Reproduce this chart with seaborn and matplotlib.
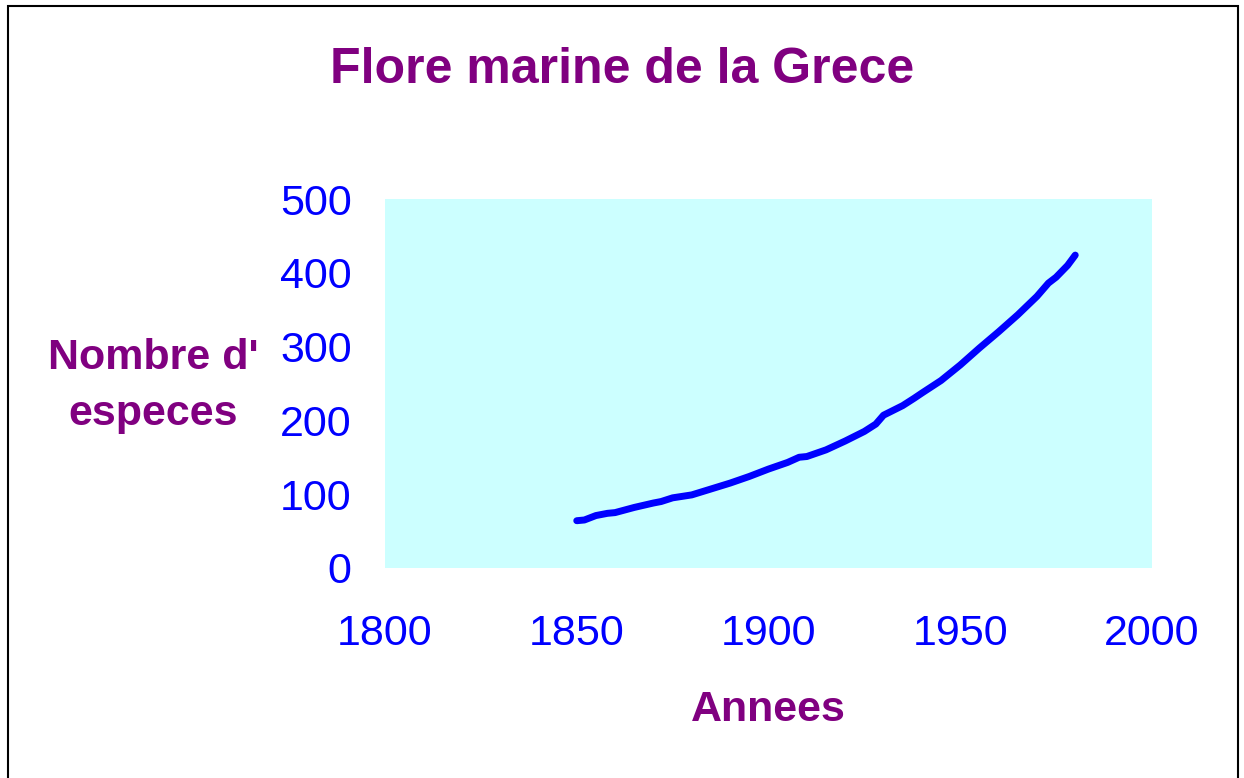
import pandas as pd
import seaborn as sns
import matplotlib.pyplot as plt
from matplotlib.patches import Rectangle

sns.set_style("white")
plt.rcParams['font.family'] = ['Liberation Sans', 'DejaVu Sans']

# data
years = [1850, 1852, 1855, 1858, 1860, 1865, 1870, 1872, 1875, 1880, 1885, 1890,
         1895, 1900, 1905, 1908, 1910, 1915, 1920, 1925, 1928, 1930, 1935, 1938,
         1940, 1945, 1950, 1955, 1960, 1965, 1970, 1973, 1975, 1978, 1980]
species = [64, 65, 71, 74, 75, 82, 88, 90, 95, 99, 107, 115,
           124, 134, 143, 150, 151, 160, 172, 185, 195, 207, 220, 230,
           237, 254, 275, 298, 320, 343, 368, 386, 394, 410, 424]
x_ticks = [1800, 1850, 1900, 1950, 2000]
y_ticks = [0, 100, 200, 300, 400, 500]

df = pd.DataFrame({"annee": years, "especes": species})

purple = "#800080"
blue = "#0000FF"

fig = plt.figure(figsize=(12.44, 7.78), dpi=100)
ax = fig.add_axes([0.3095, 0.27, 0.6165, 0.4742])
ax.set_facecolor("#CCFFFF")

sns.lineplot(x="annee", y="especes", data=df, color=blue, linewidth=5,
             solid_capstyle="round", solid_joinstyle="round", ax=ax)

ax.set_xlim(1800, 2000)
ax.set_ylim(0, 500)
ax.set_xticks(x_ticks)
ax.set_yticks(y_ticks)
ax.tick_params(axis="both", length=0, labelsize=31, labelcolor=blue)
ax.tick_params(axis="y", pad=24)
ax.tick_params(axis="x", pad=33)
for s in ax.spines.values():
    s.set_visible(False)

ax.set_xlabel("Annees", fontsize=31, fontweight="bold", color=purple)
ax.xaxis.set_label_coords(0.5, -0.331)
ax.set_ylabel("Nombre d'\nespeces", fontsize=31, fontweight="bold", color=purple,
              rotation=0, ha="center", va="center", multialignment="center",
              linespacing=1.5)
ax.yaxis.set_label_coords(-0.3025, 0.493)

fig.text(0.5, 1 - 70 / 778, "Flore marine de la Grece", fontsize=36,
         fontweight="bold", color=purple, ha="center", va="center")

# outer frame
fig.patches.append(Rectangle((8 / 1244, -0.05), 1230 / 1244, 1.05 - 6 / 778,
                             transform=fig.transFigure, fill=False,
                             edgecolor="black", linewidth=1.5))

fig.savefig("out.png", dpi=100)
